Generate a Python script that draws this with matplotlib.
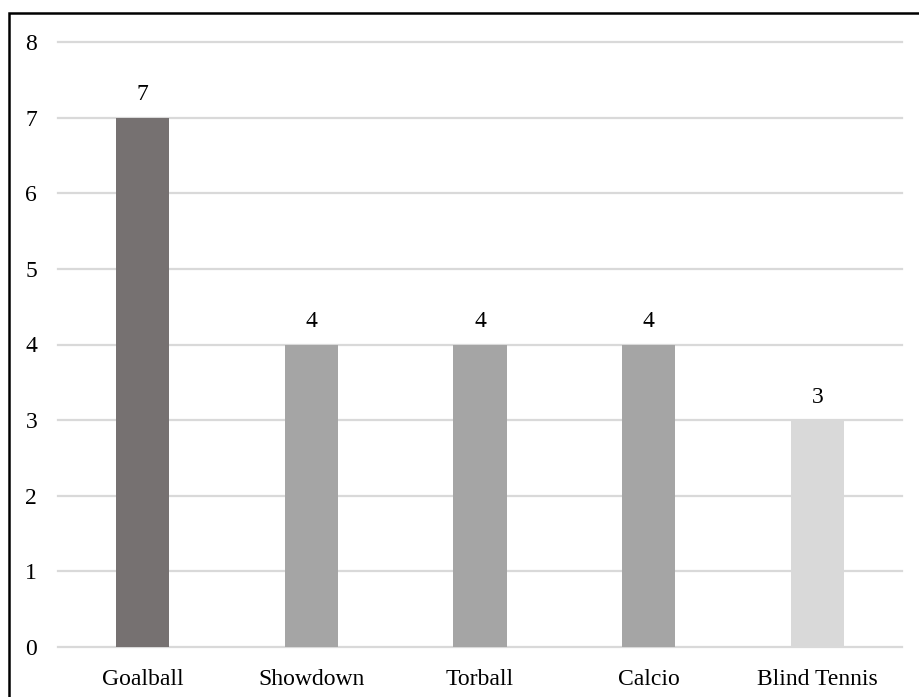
import matplotlib
matplotlib.use("Agg")
import matplotlib.pyplot as plt
from matplotlib.patches import Rectangle

sports = ["Goalball", "Showdown", "Torball", "Calcio", "Blind Tennis"]
counts = [7, 4, 4, 4, 3]
bar_colors = ["#767171", "#A5A5A5", "#A5A5A5", "#A5A5A5", "#D9D9D9"]
y_ticks = [0, 1, 2, 3, 4, 5, 6, 7, 8]

plt.rcParams["font.family"] = ["Liberation Serif", "DejaVu Serif"]

W, H = 919, 697
fig = plt.figure(figsize=(W / 100, H / 100), dpi=100)
ax = fig.add_axes([58 / W, (H - 647) / H, (902 - 58) / W, (647 - 42) / H])

x = range(len(sports))
bars = ax.bar(x, counts, width=0.314, color=bar_colors, zorder=3)
for b, v in zip(bars, counts):
    ax.annotate(str(v), (b.get_x() + b.get_width() / 2, v),
                xytext=(0, 9), textcoords="offset points",
                ha="center", va="bottom", fontsize=17, color="#000000")

ax.set_xlim(-0.5, len(sports) - 0.5)
ax.set_ylim(0, 8)
ax.set_yticks(y_ticks)
ax.set_yticklabels([str(t) for t in y_ticks])
ax.set_xticks(list(x))
ax.set_xticklabels(sports)
ax.tick_params(axis="both", length=0, labelsize=17, colors="#000000")
ax.tick_params(axis="y", pad=15)
ax.tick_params(axis="x", pad=16)
ax.yaxis.grid(True, color="#D9D9D9", linewidth=1.6, zorder=0)
for gl in ax.get_ygridlines():
    gl.set_clip_on(False)
ax.set_axisbelow(True)
for s in ax.spines.values():
    s.set_visible(False)

# outer frame (left and top edges visible)
fig.patches.append(Rectangle((9 / W, -0.2), 1.2, (H - 13) / H + 0.2,
                             transform=fig.transFigure, fill=False,
                             edgecolor="#000000", linewidth=1.8))

fig.savefig("out.png", dpi=100)
